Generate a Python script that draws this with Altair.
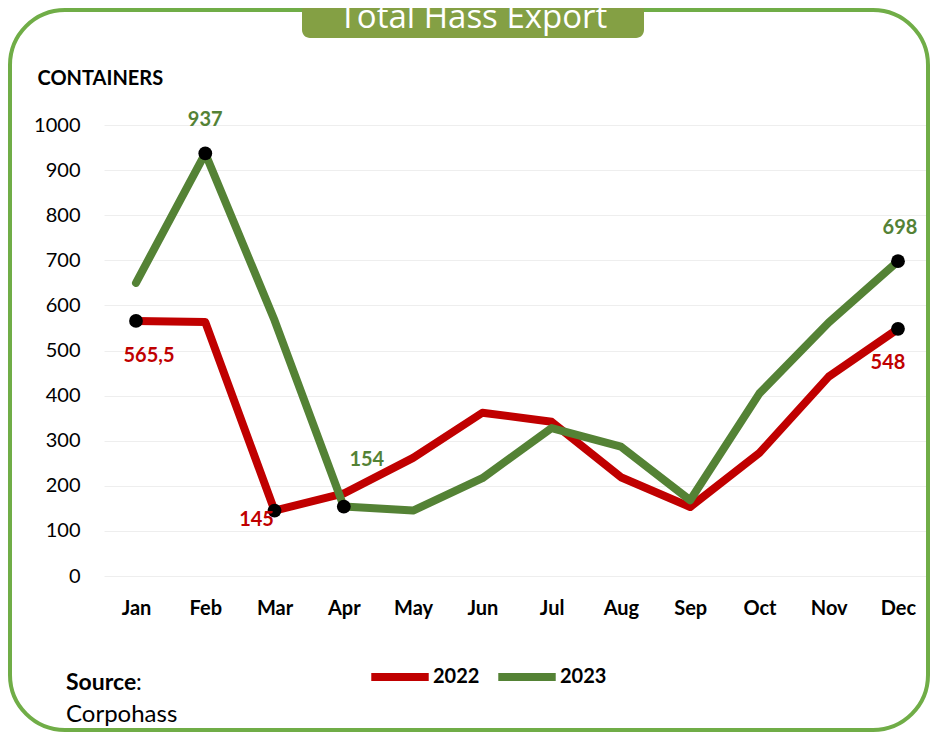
import altair as alt
import pandas as pd

# ---- data ----
months = ["Jan", "Feb", "Mar", "Apr", "May", "Jun", "Jul", "Aug", "Sep", "Oct", "Nov", "Dec"]
series = ["2022", "2023"]
values_2022 = [565.5, 563, 145, 183, 262, 362, 342, 219, 153, 273, 442, 548]
values_2023 = [650, 937, 567, 154, 145, 217, 328, 287, 168, 405, 562, 698]
marked_2022 = ["Jan", "Mar", "Dec"]
marked_2023 = ["Feb", "Apr", "Dec"]
labels_2022 = {"Jan": "565,5", "Mar": "145", "Dec": "548"}
labels_2023 = {"Feb": "937", "Apr": "154", "Dec": "698"}
y_ticks = list(range(0, 1001, 100))

RED = "#c00000"
GREEN = "#548235"
BORDER = "#70ad47"
BOX = "#84a044"
FONT = "Lato"

rows = []
for s, vals, marked, labs in [("2022", values_2022, marked_2022, labels_2022),
                              ("2023", values_2023, marked_2023, labels_2023)]:
    for m, v in zip(months, vals):
        rows.append({"month": m, "value": v, "series": s,
                     "marked": m in marked, "label": labs.get(m, "")})
df = pd.DataFrame(rows)

x_enc = alt.X("month:N", sort=months,
              scale=alt.Scale(type="point", domain=months, padding=0.462),
              axis=alt.Axis(title=None, labelAngle=0, labelFont=FONT, labelFontSize=20,
                            labelFontWeight="bold", labelColor="black", ticks=False,
                            domain=False, grid=False, labelPadding=22))
y_enc = alt.Y("value:Q", scale=alt.Scale(domain=[0, 1000], nice=False),
              axis=alt.Axis(values=y_ticks, format="d", title="CONTAINERS", titleAngle=0,
                            titleAlign="left", titleBaseline="middle", titleX=-67, titleY=-47,
                            titleFont=FONT, titleFontSize=20, titleFontWeight="bold",
                            titleColor="black", labelFont=FONT, labelFontSize=20,
                            labelColor="black", ticks=False, domain=False, labelPadding=24,
                            gridColor="#eeeeee", gridWidth=1))

base = alt.Chart(df)

lines = base.mark_line(strokeWidth=8, strokeCap="round", strokeJoin="round").encode(
    x=x_enc, y=y_enc,
    color=alt.Color("series:N", scale=alt.Scale(domain=series, range=[RED, GREEN]),
                    legend=alt.Legend(title=None, orient="none", legendX=263, legendY=519,
                                      direction="horizontal", symbolType="stroke",
                                      symbolStrokeWidth=8, symbolSize=3300,
                                      labelFont=FONT, labelFontSize=20, labelFontWeight="bold",
                                      labelColor="black", columnPadding=2, labelOffset=0,
                                      padding=0)),
    detail="series:N",
)

dots = base.transform_filter(alt.datum.marked).mark_circle(
    size=190, color="black", opacity=1).encode(x=alt.X("month:N", sort=months), y="value:Q")

offsets = {
    ("2022", "Jan"): (13, 35),
    ("2022", "Mar"): (-18, 9),
    ("2022", "Dec"): (-10, 34),
    ("2023", "Feb"): (0, -33),
    ("2023", "Apr"): (23, -47),
    ("2023", "Dec"): (2, -33),
}
label_layers = []
for (s, m), (dx, dy) in offsets.items():
    label_layers.append(
        base.transform_filter((alt.datum.series == s) & (alt.datum.month == m))
        .mark_text(dx=dx, dy=dy, font=FONT, fontSize=20, fontWeight="bold",
                   color=RED if s == "2022" else GREEN, baseline="middle", align="center")
        .encode(x=alt.X("month:N", sort=months), y="value:Q", text="label:N")
    )

one = pd.DataFrame({"k": [0]})
frame = alt.Chart(one).mark_rect(cornerRadius=55, filled=False, stroke=BORDER,
                                 strokeWidth=4).encode(
    x=alt.value(-94), x2=alt.value(824), y=alt.value(-115), y2=alt.value(605))
title_box = alt.Chart(one).mark_rect(cornerRadius=8, color=BOX).encode(
    x=alt.value(198), x2=alt.value(540), y=alt.value(-140), y2=alt.value(-87))
title_text = alt.Chart(one).mark_text(text="Total Hass Export", font="Open Sans",
                                      fontSize=33, color="white", align="center",
                                      baseline="alphabetic").encode(
    x=alt.value(369), y=alt.value(-97))
src1 = alt.Chart(one).mark_text(text="Source", font=FONT, fontSize=23, fontWeight="bold",
                                color="black", align="left", baseline="middle").encode(
    x=alt.value(-38), y=alt.value(558))
src2 = alt.Chart(one).mark_text(text=":", font=FONT, fontSize=23, color="black",
                                align="left", baseline="middle").encode(
    x=alt.value(32), y=alt.value(558))
src3 = alt.Chart(one).mark_text(text="Corpohass", font=FONT, fontSize=24, color="black",
                                align="left", baseline="middle").encode(
    x=alt.value(-38), y=alt.value(590))

chart = alt.layer(frame, lines, dots, *label_layers, title_box, title_text, src1, src2, src3
                  ).properties(
    width=826, height=451,
    padding={"left": 96, "top": 117, "right": 0, "bottom": 158},
    autosize=alt.AutoSizeParams(type="none"),
    background="white",
).configure_view(stroke=None)

chart.save("out.html", embed_options={"renderer": "svg", "actions": False})
